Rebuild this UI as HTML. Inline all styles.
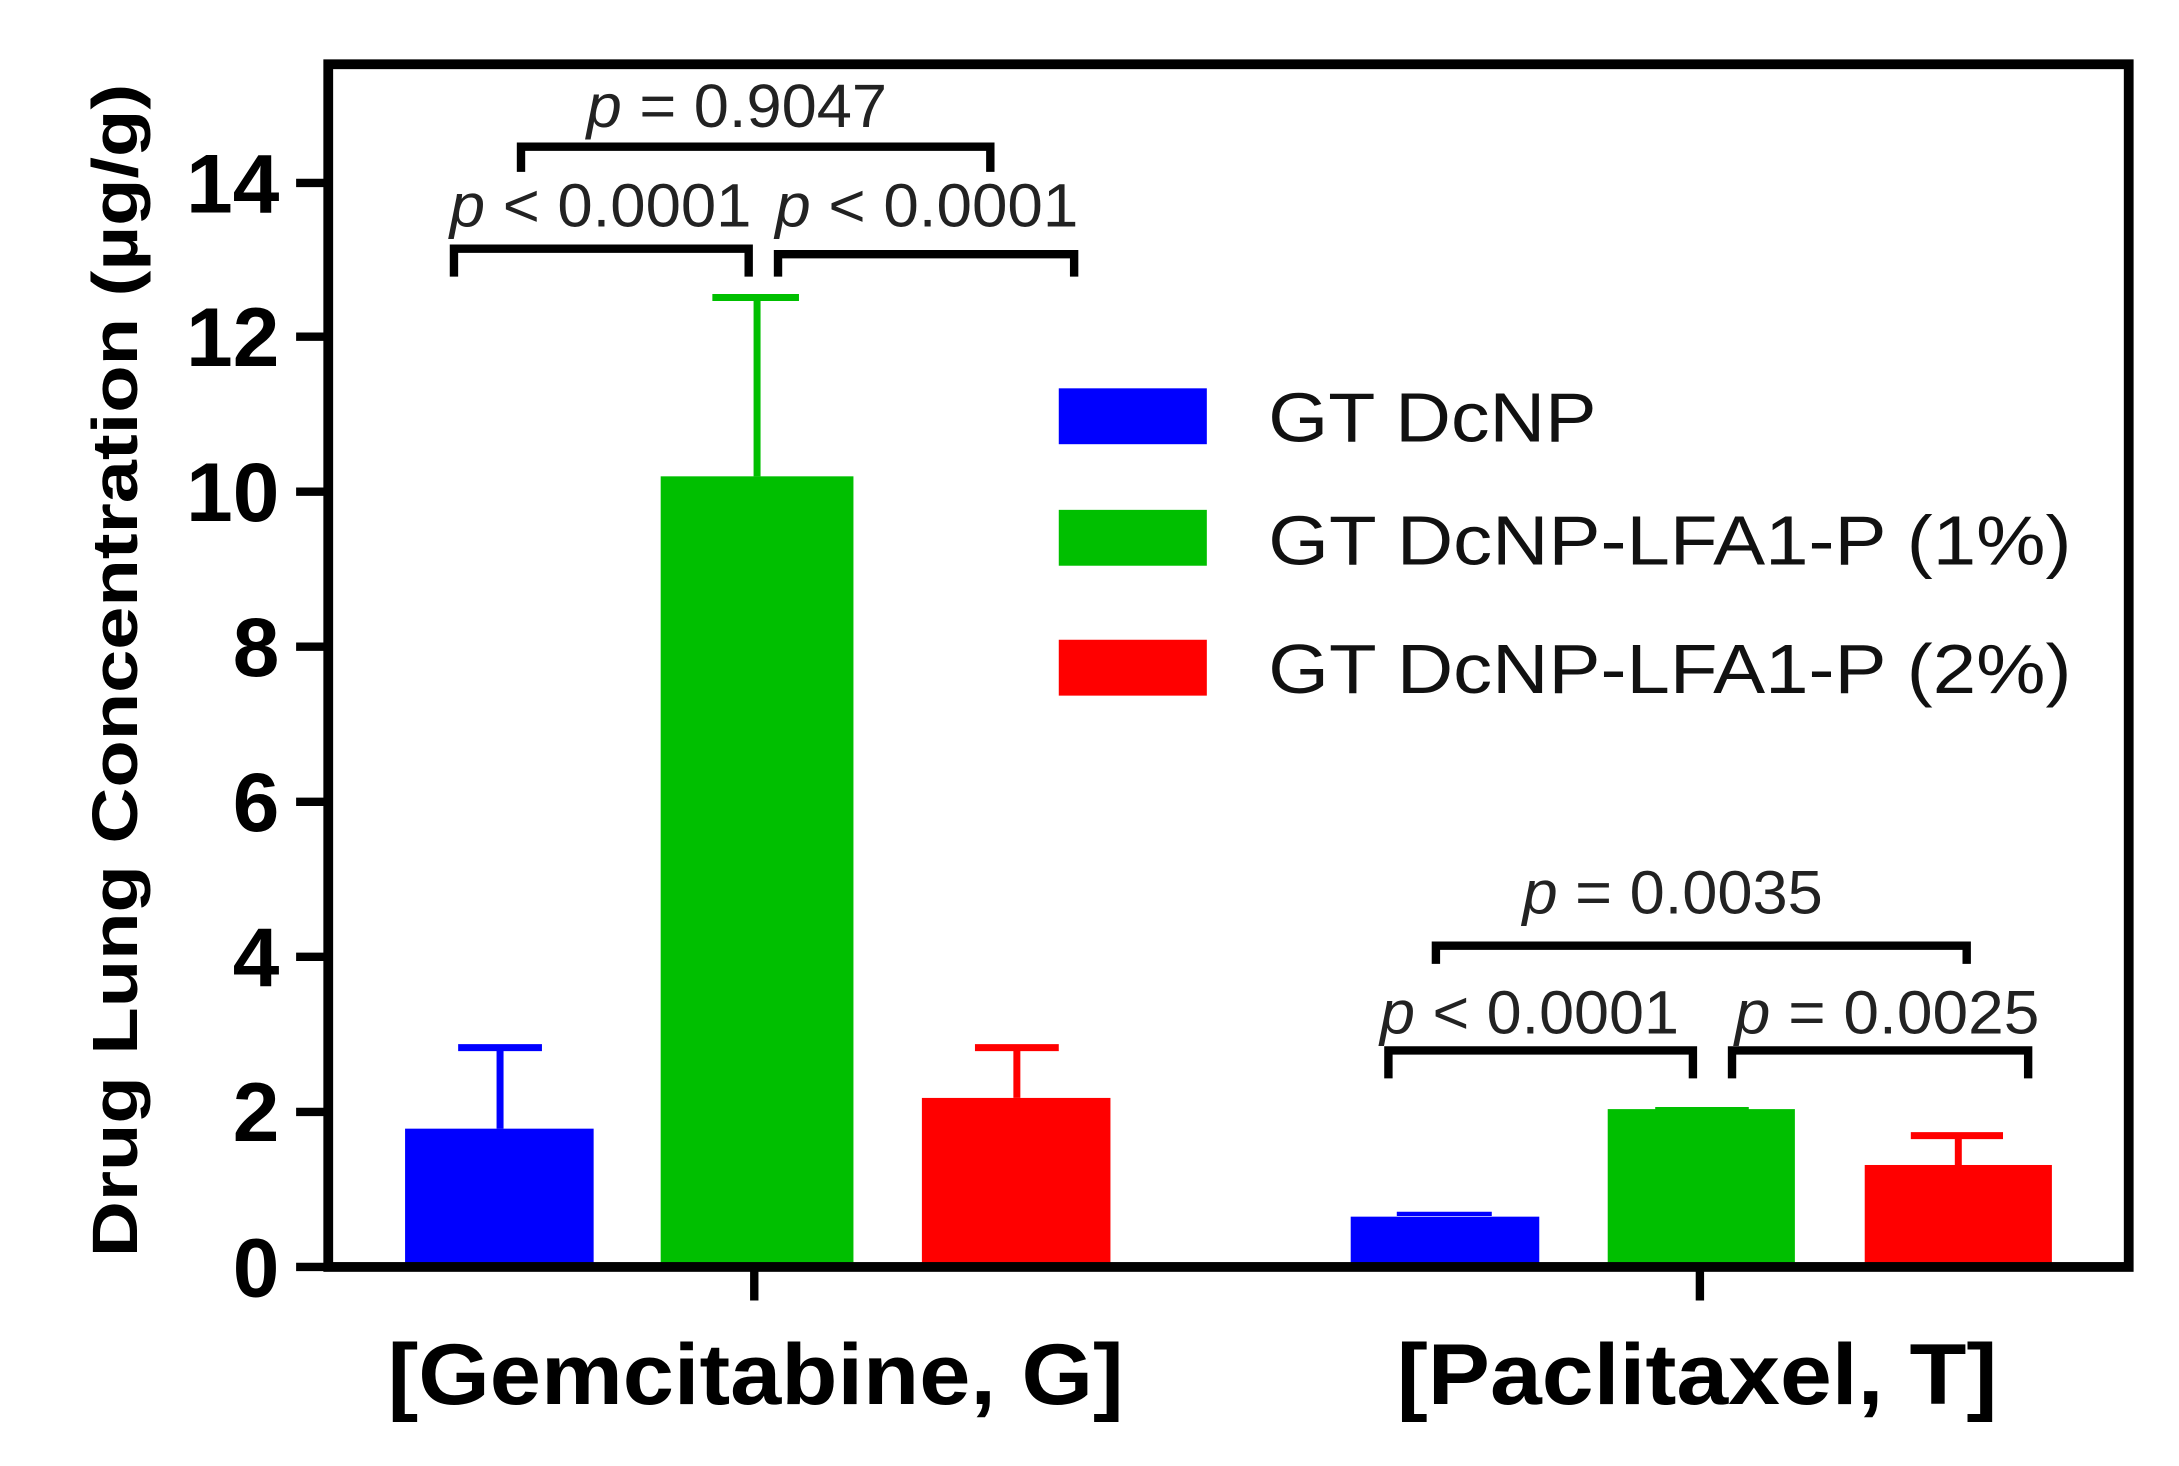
<!DOCTYPE html>
<html><head><meta charset="utf-8"><style>html,body{margin:0;padding:0;background:#fff}svg{display:block}</style></head>
<body>
<svg width="2179" height="1466" viewBox="0 0 1560 1049.5" preserveAspectRatio="none" xmlns="http://www.w3.org/2000/svg" font-family="Liberation Sans, sans-serif">
<rect width="1560" height="1050" fill="#fff"/>
<rect x="290" y="808" width="135" height="99" fill="#0000ff"/>
<rect x="473" y="341" width="138" height="566" fill="#00bf00"/>
<rect x="660" y="786" width="135" height="121" fill="#ff0000"/>
<rect x="967" y="871" width="135" height="36" fill="#0000ff"/>
<rect x="1151" y="794" width="134" height="113" fill="#00bf00"/>
<rect x="1335" y="834" width="134" height="73" fill="#ff0000"/>
<g stroke-width="5" fill="none">
<path d="M358 808V750M328 750H388" stroke="#0000ff"/>
<path d="M542 341V213M510 213H572" stroke="#00bf00"/>
<path d="M728 786V750M698 750H758" stroke="#ff0000"/>
<path d="M1000 869H1068" stroke="#0000ff" stroke-width="3"/>
<path d="M1185 794H1252" stroke="#00bf00" stroke-width="3"/>
<path d="M1402 834V813M1368 813H1434" stroke="#ff0000"/>
</g>
<rect x="235" y="46" width="1289" height="861" fill="none" stroke="#000" stroke-width="7"/>
<g stroke="#000" stroke-width="6">
<path d="M212 907H235M212 796H235M212 685H235M212 574H235M212 463H235M212 352H235M212 241H235M212 131H235"/>
<path d="M540 907V931M1217 907V931"/>
</g>
<g font-weight="bold" font-size="60" text-anchor="end" fill="#000">
<text x="200" y="928">0</text><text x="200" y="817">2</text><text x="200" y="706">4</text>
<text x="200" y="595">6</text><text x="200" y="484">8</text><text x="200" y="373">10</text>
<text x="200" y="262">12</text><text x="200" y="152">14</text>
</g>
<text transform="translate(98,480) rotate(-90)" text-anchor="middle" font-weight="bold" font-size="46" textLength="840" lengthAdjust="spacingAndGlyphs">Drug Lung Concentration (µg/g)</text>
<g font-weight="bold" font-size="62" text-anchor="middle">
<text x="541" y="1005" textLength="527" lengthAdjust="spacingAndGlyphs">[Gemcitabine, G]</text>
<text x="1215" y="1005" textLength="430" lengthAdjust="spacingAndGlyphs">[Paclitaxel, T]</text>
</g>
<rect x="758" y="278" width="106" height="40" fill="#0000ff"/>
<rect x="758" y="365" width="106" height="40" fill="#00bf00"/>
<rect x="758" y="458" width="106" height="40" fill="#ff0000"/>
<g font-size="50" fill="#111">
<text x="908" y="316" textLength="235" lengthAdjust="spacingAndGlyphs">GT DcNP</text>
<text x="908" y="404" textLength="575" lengthAdjust="spacingAndGlyphs">GT DcNP-LFA1-P (1%)</text>
<text x="908" y="496" textLength="575" lengthAdjust="spacingAndGlyphs">GT DcNP-LFA1-P (2%)</text>
</g>
<g stroke="#000" stroke-width="6" fill="none">
<path d="M325 198V178H536V198"/>
<path d="M557 198V182H769V198"/>
<path d="M373 123V105H709V123"/>
<path d="M1028 690V677H1408V690"/>
<path d="M994 772V752H1212V772"/>
<path d="M1240 772V752H1452V772"/>
</g>
<g font-size="44" fill="#222">
<text x="322" y="162" textLength="216" lengthAdjust="spacingAndGlyphs"><tspan font-style="italic">p</tspan> &lt; 0.0001</text>
<text x="555" y="162" textLength="217" lengthAdjust="spacingAndGlyphs"><tspan font-style="italic">p</tspan> &lt; 0.0001</text>
<text x="420" y="91" textLength="215" lengthAdjust="spacingAndGlyphs"><tspan font-style="italic">p</tspan> = 0.9047</text>
<text x="1090" y="654" textLength="215" lengthAdjust="spacingAndGlyphs"><tspan font-style="italic">p</tspan> = 0.0035</text>
<text x="988" y="740" textLength="214" lengthAdjust="spacingAndGlyphs"><tspan font-style="italic">p</tspan> &lt; 0.0001</text>
<text x="1242" y="740" textLength="218" lengthAdjust="spacingAndGlyphs"><tspan font-style="italic">p</tspan> = 0.0025</text>
</g>
</svg>
</body></html>
